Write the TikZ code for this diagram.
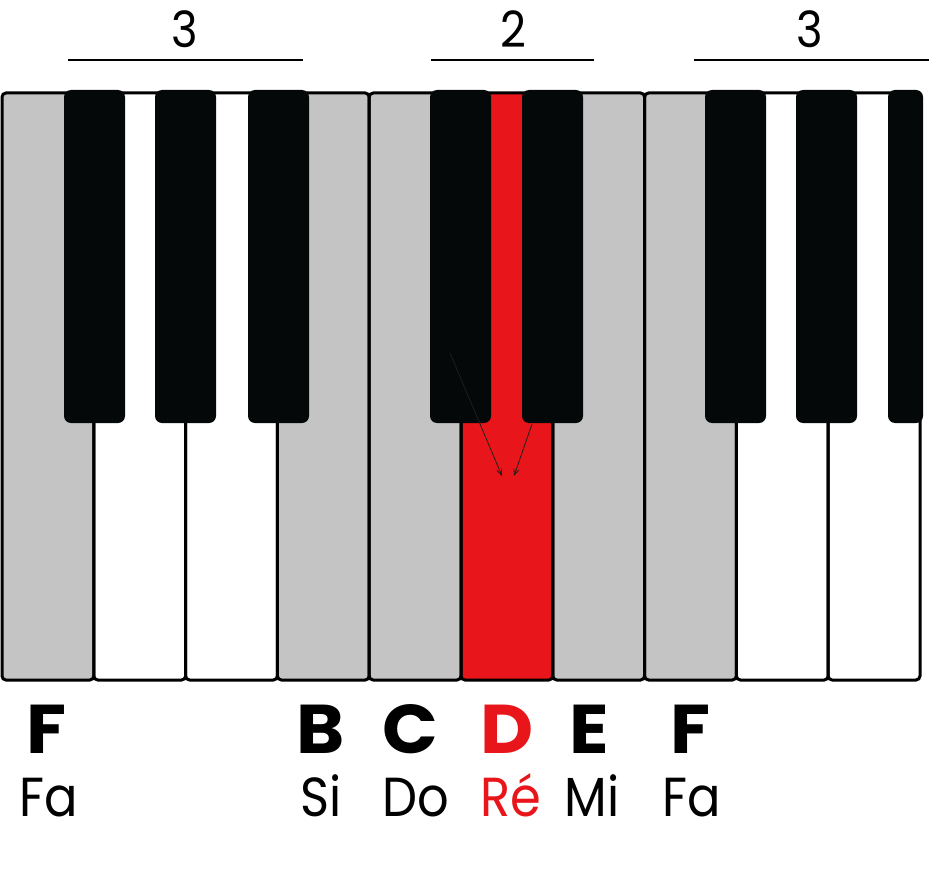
\documentclass[tikz,border=0pt]{standalone}
\usepackage{fontspec}
\setmainfont{Poppins}
\newfontfamily\namefont{Poppins}[FakeStretch=0.9]
\newfontfamily\letterfont{Poppins}[FakeStretch=1.06]
\usetikzlibrary{arrows.meta}
\definecolor{keygray}{HTML}{C4C4C4}
\definecolor{keyred}{HTML}{E8161A}
\definecolor{keyblack}{HTML}{050808}
\definecolor{arrowcol}{HTML}{1E1E1E}
\tikzset{
  whitekey/.style={draw=black, line width=3pt, rounded corners=4pt},
  blackkey/.style={fill=keyblack, rounded corners=7pt},
  bigletter/.style={font=\letterfont\fontsize{69}{69}\selectfont\bfseries, anchor=base, inner sep=0pt},
  smallname/.style={font=\namefont\fontsize{55}{55}\selectfont, anchor=base, inner sep=0pt},
  count/.style={font=\namefont\fontsize{50}{50}\selectfont, anchor=base, inner sep=0pt},
  groupline/.style={line width=1.3pt, black},
  hint/.style={draw=arrowcol, line width=0.8pt, -{Straight Barb[length=6pt,width=5pt]}}
}
\begin{document}
\begin{tikzpicture}[x=1pt,y=-1pt]
\useasboundingbox (0,0) rectangle (929,872);
\fill[white] (0,0) rectangle (929,872);
% white keys
\foreach \i/\col in {0/keygray,1/white,2/white,3/keygray,4/keygray,5/keyred,6/keygray,7/keygray,8/white,9/white}{
  \pgfmathsetmacro{\xa}{2+\i*91.8}
  \pgfmathsetmacro{\xb}{2+(\i+1)*91.8}
  \fill[\col] (\xa,93) rectangle (\xb,680);
}
\foreach \i in {0,...,9}{
  \pgfmathsetmacro{\xa}{2+\i*91.8}
  \pgfmathsetmacro{\xb}{2+(\i+1)*91.8}
  \draw[whitekey] (\xa,93) rectangle (\xb,680);
}
% black keys
\foreach \xa in {64,155,248,430,522,705,796}{
  \fill[blackkey] (\xa,90) rectangle (\xa+61,423);
}
\fill[blackkey] (888,90) rectangle (923,423);
% hint arrows
\coordinate (la) at (450,353);
\coordinate (lb) at (502,476);
\coordinate (ra) at (532,424);
\coordinate (rb) at (514,476);
\draw[hint] (la) -- (lb);
\draw[hint] (ra) -- (rb);
% counts
\node[count] (c1) at (185,48) {3};
\node[count] (c2) at (513,48) {2};
\node[count] (c3) at (810,48) {3};
\coordinate (l1a) at (68,60);  \coordinate (l1b) at (303,60);
\coordinate (l2a) at (431,60); \coordinate (l2b) at (594,60);
\coordinate (l3a) at (694,60); \coordinate (l3b) at (929,60);
\draw[groupline] (l1a) -- (l1b);
\draw[groupline] (l2a) -- (l2b);
\draw[groupline] (l3a) -- (l3b);
% letter names
\node[bigletter] (nF1) at (47,753) {F};
\node[bigletter] (nB) at (321,753) {B};
\node[bigletter] (nC) at (410,753) {C};
\node[bigletter, text=keyred] (nD) at (507,753) {D};
\node[bigletter] (nE) at (589,753) {E};
\node[bigletter] (nF2) at (690,753) {F};
% solfege names
\node[smallname] (sF1) at (49,816) {Fa};
\node[smallname] (sB) at (321,816) {Si};
\node[smallname] (sC) at (416,816) {Do};
\node[smallname, text=keyred] (sD) at (511,816) {Ré};
\node[smallname] (sE) at (592,816) {Mi};
\node[smallname] (sF2) at (692,816) {Fa};
\end{tikzpicture}
\end{document}
